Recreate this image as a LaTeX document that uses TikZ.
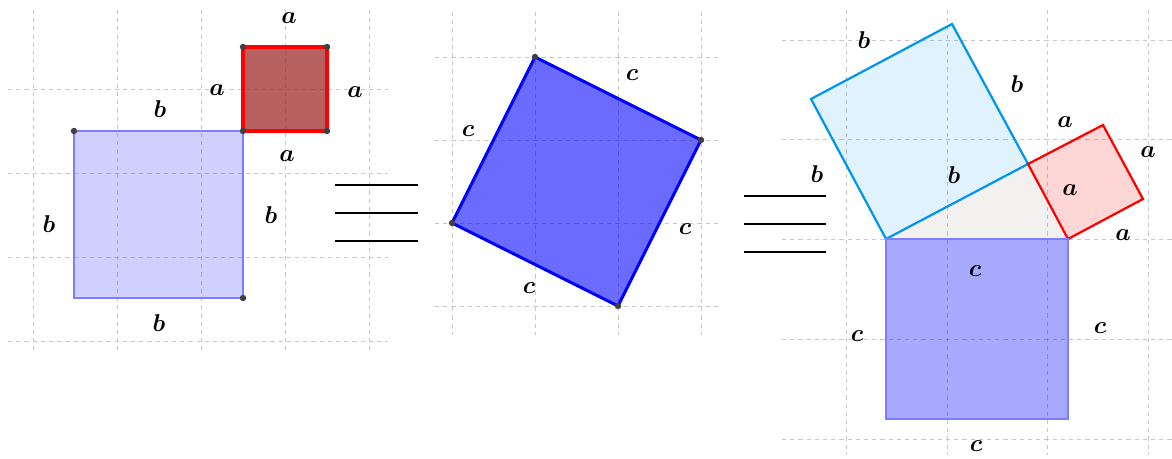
\documentclass[tikz,border=0pt]{standalone}
\usepackage{amsmath,amssymb}
\usepackage{xcolor}
\usepackage{tikz}
\usetikzlibrary{calc}

\definecolor{gridgray}{RGB}{200,200,200}
\definecolor{sqblue}{RGB}{67,67,255}
\definecolor{sqblueline}{RGB}{125,125,255}
\definecolor{sqbrown}{RGB}{159,43,43}
\definecolor{sqsky}{RGB}{0,150,240}
\definecolor{trigray}{RGB}{128,118,108}

\begin{document}
\begin{tikzpicture}[x=0.03cm, y=-0.03cm, font=\fontsize{22}{26}\selectfont,
    gridline/.style={draw=gridgray, line width=0.7pt, dash pattern=on 3.5pt off 3.5pt},
    lbl/.style={inner sep=0pt},
    vertex/.style={circle, fill=black!75, inner sep=0pt, minimum size=5.5pt},
    eqline/.style={line width=1.6pt}]
    \useasboundingbox (0,0) rectangle (1172,459);

    % grids of the three panels
    \foreach \x in {33,117,201,285,369} \draw[gridline] (\x,10) -- (\x,350);
    \foreach \y in {89,173,257,341} \draw[gridline] (8,\y) -- (388,\y);
    \foreach \x in {452,535,618,701} \draw[gridline] (\x,12) -- (\x,335);
    \foreach \y in {57,140,223,306} \draw[gridline] (435,\y) -- (722,\y);
    \foreach \x in {846,947,1047,1148} \draw[gridline] (\x,10) -- (\x,455);
    \foreach \y in {40,139,239,339,439} \draw[gridline] (782,\y) -- (1172,\y);

    % panel 1: b-square and a-square side by side
    \coordinate (B1) at (74,131);  \coordinate (B2) at (243,131);
    \coordinate (B3) at (243,298); \coordinate (B4) at (74,298);
    \coordinate (A1) at (243,47);  \coordinate (A2) at (327,47);
    \coordinate (A3) at (327,131);
    \draw[sqblueline, line width=1.7pt, fill=sqblue, fill opacity=0.25]
      (B1) -- (B2) -- (B3) -- (B4) -- cycle;
    \draw[red, line width=2.6pt, fill=sqbrown, fill opacity=0.75]
      (A1) -- (A2) -- (A3) -- (B2) -- cycle;
    \foreach \p in {B1,B2,B3,A1,A2,A3} \node[vertex] at (\p) {};
    \node[lbl] (la1) at (289,18)  {$\boldsymbol{a}$};
    \node[lbl] (la2) at (217,90)  {$\boldsymbol{a}$};
    \node[lbl] (la3) at (355,92)  {$\boldsymbol{a}$};
    \node[lbl] (la4) at (287,156) {$\boldsymbol{a}$};
    \node[lbl] (lb1) at (160,109) {$\boldsymbol{b}$};
    \node[lbl] (lb2) at (49,224)  {$\boldsymbol{b}$};
    \node[lbl] (lb3) at (271,215) {$\boldsymbol{b}$};
    \node[lbl] (lb4) at (159,323) {$\boldsymbol{b}$};

    % first sign
    \foreach \y in {185,213,241} \draw[eqline] (335,\y) -- (418,\y);

    % panel 2: tilted c-square
    \coordinate (C1) at (535,57);  \coordinate (C2) at (701,140);
    \coordinate (C3) at (618,306); \coordinate (C4) at (452,223);
    \draw[blue, line width=2.6pt, fill=blue, fill opacity=0.58]
      (C1) -- (C2) -- (C3) -- (C4) -- cycle;
    \foreach \p in {C1,C2,C3,C4} \node[vertex] at (\p) {};
    \node[lbl] (lc1) at (632,75)  {$\boldsymbol{c}$};
    \node[lbl] (lc2) at (468,131) {$\boldsymbol{c}$};
    \node[lbl] (lc3) at (685,229) {$\boldsymbol{c}$};
    \node[lbl] (lc4) at (529,288) {$\boldsymbol{c}$};

    % second sign
    \foreach \y in {196,224,252} \draw[eqline] (744,\y) -- (826,\y);

    % panel 3: squares on the sides of the right triangle
    \coordinate (P) at (886,239); \coordinate (Q) at (1068,239);
    \coordinate (R) at (1028,164);
    \fill[trigray, fill opacity=0.1] (P) -- (Q) -- (R) -- cycle;
    \draw[sqsky, line width=1.9pt, fill=sqsky, fill opacity=0.12]
      (P) -- (R) -- (952,24) -- (811,99) -- cycle;
    \draw[red, line width=1.9pt, fill=red, fill opacity=0.16]
      (R) -- (1103,125) -- (1143,199) -- (Q) -- cycle;
    \draw[sqblueline, line width=1.9pt, fill=blue, fill opacity=0.34]
      (P) -- (Q) -- (1068,419) -- (886,419) -- cycle;
    \node[lbl] (tb1) at (864,40)   {$\boldsymbol{b}$};
    \node[lbl] (tb2) at (1017,84)  {$\boldsymbol{b}$};
    \node[lbl] (tb3) at (817,174)  {$\boldsymbol{b}$};
    \node[lbl] (tb4) at (954,175)  {$\boldsymbol{b}$};
    \node[lbl] (ta1) at (1065,122) {$\boldsymbol{a}$};
    \node[lbl] (ta2) at (1148,152) {$\boldsymbol{a}$};
    \node[lbl] (ta3) at (1070,190) {$\boldsymbol{a}$};
    \node[lbl] (ta4) at (1123,235) {$\boldsymbol{a}$};
    \node[lbl] (tc1) at (975,271)  {$\boldsymbol{c}$};
    \node[lbl] (tc2) at (857,336)  {$\boldsymbol{c}$};
    \node[lbl] (tc3) at (1100,328) {$\boldsymbol{c}$};
    \node[lbl] (tc4) at (976,446)  {$\boldsymbol{c}$};
  \end{tikzpicture}
\end{document}
